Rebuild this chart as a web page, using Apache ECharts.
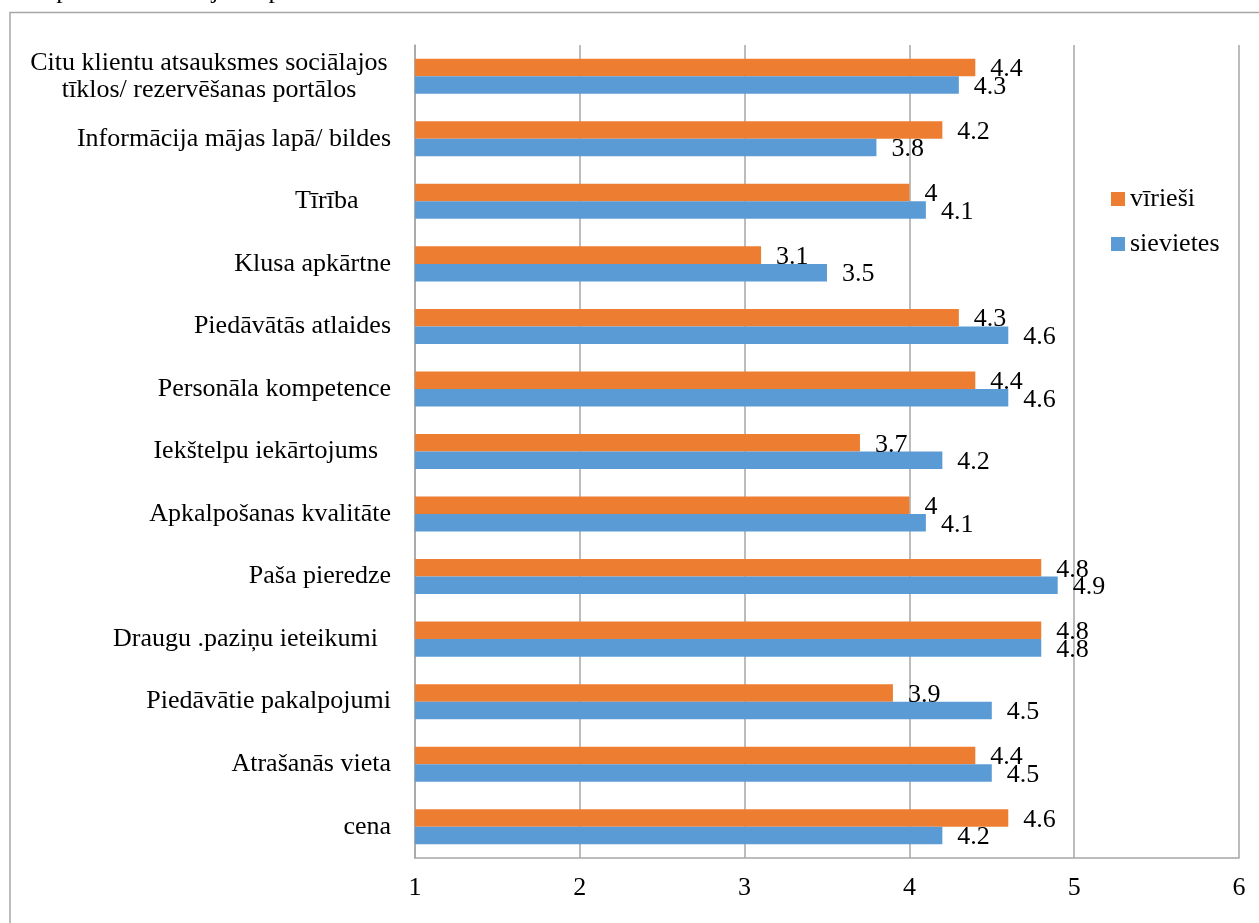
<!DOCTYPE html>
<html>
<head>
<meta charset="utf-8">
<script src="https://cdn.jsdelivr.net/npm/echarts@6/dist/echarts.min.js"></script>
<style>
  html, body { margin: 0; padding: 0; background: #fff; }
  #chart { width: 1259px; height: 923px; }
</style>
</head>
<body>
<div id="chart"></div>
<script>
// Factors, listed top to bottom as shown on the category axis
const categories = [
  'Citu klientu atsauksmes sociālajos\ntīklos/ rezervēšanas portālos',
  'Informācija mājas lapā/ bildes',
  'Tīrība     ',
  'Klusa apkārtne',
  'Piedāvātās atlaides',
  'Personāla kompetence',
  'Iekštelpu iekārtojums  ',
  'Apkalpošanas kvalitāte',
  'Paša pieredze',
  'Draugu .paziņu ieteikumi  ',
  'Piedāvātie pakalpojumi',
  'Atrašanās vieta',
  'cena'
];

// Average scores by gender
const virieshi = [4.4, 4.2, 4, 3.1, 4.3, 4.4, 3.7, 4, 4.8, 4.8, 3.9, 4.4, 4.6];
const sievietes = [4.3, 3.8, 4.1, 3.5, 4.6, 4.6, 4.2, 4.1, 4.9, 4.8, 4.5, 4.5, 4.2];

const seriesNames = ['vīrieši', 'sievietes'];
const xTicks = [1, 2, 3, 4, 5, 6];

const FONT = "'Liberation Serif', 'Times New Roman', serif";
const GRID = '#a6a6a6';

const chart = echarts.init(document.getElementById('chart'), null, { renderer: 'canvas' });

const valueLabel = {
  show: true,
  position: 'right',
  distance: 15,
  offset: [0, 2],
  fontSize: 26,
  fontFamily: FONT,
  color: '#000'
};

chart.setOption({
  backgroundColor: '#fff',
  animation: false,
  textStyle: { fontFamily: FONT },
  graphic: [
    {
      type: 'rect',
      shape: { x: 10, y: 12.5, width: 1400, height: 1100 },
      style: { fill: 'none', stroke: GRID, lineWidth: 1.5 },
      silent: true
    },
    {
      type: 'text',
      left: 26,
      top: -22,
      style: {
        text: 'respondentu vērtējums pēc dzimuma',
        font: "26px 'Liberation Serif', serif",
        fill: '#000'
      },
      silent: true
    }
  ],
  legend: {
    orient: 'vertical',
    left: 1111,
    top: 186,
    padding: 0,
    icon: 'rect',
    itemWidth: 14,
    itemHeight: 14,
    itemGap: 19,
    textStyle: { fontSize: 26, fontFamily: FONT, color: '#000' },
    data: seriesNames
  },
  grid: {
    left: 415,
    right: 20,
    top: 45,
    bottom: 65,
    containLabel: false
  },
  xAxis: {
    type: 'value',
    min: xTicks[0],
    max: xTicks[xTicks.length - 1],
    interval: 1,
    axisLine: { show: true, lineStyle: { color: GRID, width: 1.5 } },
    axisTick: { show: false },
    splitLine: { show: true, lineStyle: { color: GRID, width: 1.5 } },
    axisLabel: {
      margin: 17,
      fontSize: 26,
      fontFamily: FONT,
      color: '#000'
    }
  },
  yAxis: {
    type: 'category',
    inverse: true,
    data: categories,
    axisLine: { show: true, lineStyle: { color: GRID, width: 1.5 } },
    axisTick: { show: false },
    splitLine: { show: false },
    axisLabel: {
      margin: 24,
      fontSize: 26,
      fontFamily: FONT,
      color: '#000',
      lineHeight: 27,
      formatter: function (v) {
        if (v.indexOf('\n') >= 0) {
          return v.split('\n').map(function (s) { return '{c|' + s + '}'; }).join('\n');
        }
        return v;
      },
      rich: {
        c: {
          width: 364,
          align: 'center',
          fontSize: 26,
          fontFamily: FONT,
          color: '#000',
          lineHeight: 27
        }
      }
    }
  },
  series: [
    {
      name: seriesNames[0],
      type: 'bar',
      data: virieshi,
      barGap: '0%',
      barCategoryGap: '44%',
      itemStyle: { color: '#ED7D31' },
      label: valueLabel
    },
    {
      name: seriesNames[1],
      type: 'bar',
      data: sievietes,
      barGap: '0%',
      barCategoryGap: '44%',
      itemStyle: { color: '#5B9BD5' },
      label: valueLabel
    }
  ]
});
</script>
</body>
</html>
